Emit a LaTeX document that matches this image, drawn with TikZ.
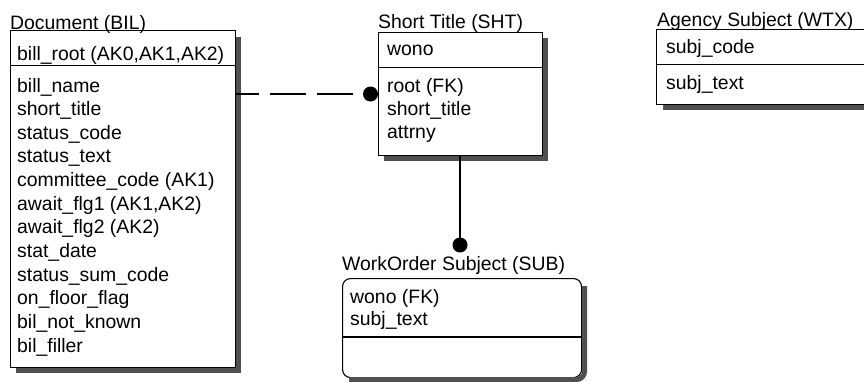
\documentclass[tikz,border=0pt]{standalone}
\usepackage{fontspec}
\setmainfont{Liberation Sans}
\definecolor{shadowgray}{RGB}{80,80,80}
\begin{document}
\begin{tikzpicture}[x=1pt,y=-1pt,
  lbl/.style={anchor=base west, inner sep=0pt, font=\fontsize{19.4}{23}\selectfont},
  ent/.style={draw, line width=1.1pt, fill=white, inner sep=0pt, anchor=north west},
  shadowline/.style={draw=shadowgray, line width=5pt},
  ball/.style={circle, fill=black, inner sep=0pt, minimum size=15pt},
  conn/.style={line width=1.1pt}]
\useasboundingbox (0,0) rectangle (864,381);

% ---------- Document (BIL)
\node[ent, minimum width=225pt, minimum height=35pt] (bilk) at (10,30) {};
\node[ent, minimum width=225pt, minimum height=302pt] (bilb) at (10,65) {};
\path[shadowline] (238.5,37) -- (238.5,370.5) -- (16,370.5);
\node[lbl] (bilt) at (10,29) {Document (BIL)};
\node[lbl] (bil0) at (17,60) {bill\_root (AK0,AK1,AK2)};
\node[lbl] (bil1) at (17,92.0) {bill\_name};
\node[lbl] (bil2) at (17,115.6) {short\_title};
\node[lbl] (bil3) at (17,139.3) {status\_code};
\node[lbl] (bil4) at (17,162.9) {status\_text};
\node[lbl] (bil5) at (17,186.5) {committee\_code (AK1)};
\node[lbl] (bil6) at (17,210.2) {await\_flg1 (AK1,AK2)};
\node[lbl] (bil7) at (17,233.8) {await\_flg2 (AK2)};
\node[lbl] (bil8) at (17,257.5) {stat\_date};
\node[lbl] (bil9) at (17,281.1) {status\_sum\_code};
\node[lbl] (bil10) at (17,304.7) {on\_floor\_flag};
\node[lbl] (bil11) at (17,328.4) {bil\_not\_known};
\node[lbl] (bil12) at (17,352.0) {bil\_filler};

% ---------- Short Title (SHT)
\node[ent, minimum width=164pt, minimum height=35pt] (shtk) at (378,32) {};
\node[ent, minimum width=164pt, minimum height=88pt] (shtb) at (378,67) {};
\path[shadowline] (545,38) -- (545,158.5) -- (384,158.5);
\node[lbl] (shtt) at (378,28) {Short Title (SHT)};
\node[lbl] (sht0) at (387,55) {wono};
\node[lbl] (sht1) at (387,92) {root (FK)};
\node[lbl] (sht2) at (387,115) {short\_title};
\node[lbl] (sht3) at (387,138) {attrny};

% ---------- WorkOrder Subject (SUB)
\node[ent, rounded corners=8pt, minimum width=239pt, minimum height=99pt] (sub) at (342,278) {};
\path[shadowline, rounded corners=8pt] (584.5,286) -- (584.5,379.5) -- (349,379.5);
\draw[conn] (sub.west |- 0,337) -- (sub.east |- 0,337);
\node[lbl] (subt) at (342,270) {WorkOrder Subject (SUB)};
\node[lbl] (sub1) at (350,303) {wono (FK)};
\node[lbl] (sub2) at (350,325) {subj\_text};

% ---------- Agency Subject (WTX)
\node[ent, minimum width=240pt, minimum height=35pt] (wtxk) at (656,29) {};
\node[ent, minimum width=240pt, minimum height=40pt] (wtxb) at (656,64) {};
\path[shadowline] (663,107.5) -- (900,107.5);
\node[lbl] (wtxt) at (657,26) {Agency Subject (WTX)};
\node[lbl] (wtx1) at (666,53) {subj\_code};
\node[lbl] (wtx2) at (666,89) {subj\_text};

% ---------- relationships
\node[ball] (shtball) at (370.5,94) {};
\draw[conn, dash pattern=on 36pt off 11pt, dash phase=37pt] (shtball.west) -- (shtball.west -| bilb.east);

\node[ball] (subball) at (460,245) {};
\draw[conn] (subball |- shtb.south) -- (subball.center);
\end{tikzpicture}
\end{document}
